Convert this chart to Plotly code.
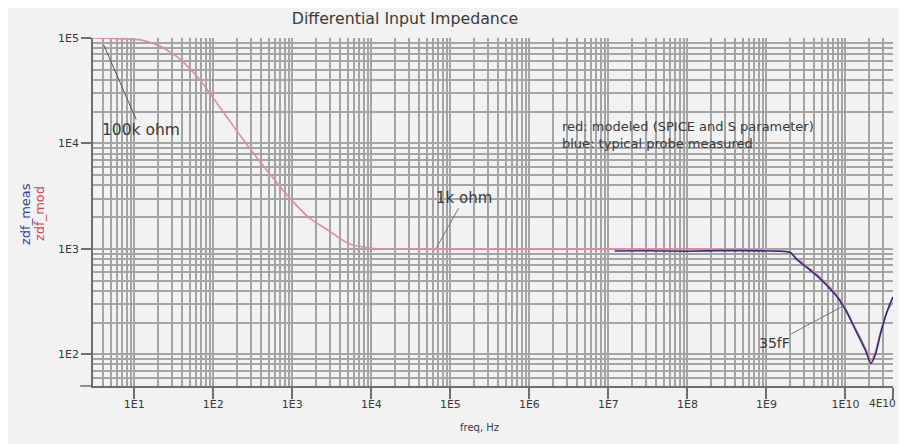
import plotly.graph_objects as go
import math

# ---- data ----
mod_freq = [3, 5.4, 12, 21, 38, 68, 121, 175, 288, 514, 916, 1636, 2920, 5210, 9300, 12300,
            1e5, 1e6, 1e7, 1e8, 1e9, 1.4e9, 2.0e9, 2.4e9, 4.3e9, 7.6e9, 1.0e10,
            1.34e10, 1.8e10, 2.1e10, 2.4e10, 2.8e10, 3.4e10, 4e10]
mod_z = [1e5, 99000, 96000, 84000, 63000, 40000, 22000, 15000, 9000, 5180, 3060, 1970, 1480, 1116, 1020, 1000,
         1000, 1000, 1000, 1000, 990, 960, 930, 820, 578, 373, 274,
         177, 114, 88, 107, 165, 257, 310]

meas_freq = [1.2e7, 3e7, 1e8, 3e8, 1e9, 1.4e9, 2.0e9, 2.4e9, 4.3e9, 7.6e9, 1.0e10,
             1.34e10, 1.8e10, 2.1e10, 2.4e10, 2.8e10, 3.4e10, 4e10]
meas_z = [955, 960, 950, 965, 955, 950, 925, 800, 560, 360, 265,
          170, 108, 82, 100, 160, 260, 350]

x_tickvals = [1e1, 1e2, 1e3, 1e4, 1e5, 1e6, 1e7, 1e8, 1e9, 1e10, 4e10]
x_ticktext = ["1E1", "1E2", "1E3", "1E4", "1E5", "1E6", "1E7", "1E8", "1E9", "1E10", "4E10"]
y_tickvals = [1e2, 1e3, 1e4, 1e5]
y_ticktext = ["1E2", "1E3", "1E4", "1E5"]

x_min, x_max = 3, 4e10
y_min, y_max = 50, 1e5

GRID = "#a4a4a4"
AXIS = "#6e6e6e"
FONT = "DejaVu Sans, Verdana, sans-serif"
TXT = "#3a3a3a"

# the page puts the figure 8px in from the top-left corner of the window
FIG_W, FIG_H = 899, 436

x_minor = [m * 10 ** d for d in range(0, 11) for m in range(2, 10) if x_min <= m * 10 ** d <= x_max]
y_minor = [m * 10 ** d for d in range(1, 5) for m in range(2, 10) if y_min <= m * 10 ** d <= y_max]

# the last x label sits at the right edge: draw it as a right-anchored text
x_axis_labels = x_ticktext[:-1] + [""]

fig = go.Figure()
fig.add_trace(go.Scatter(x=mod_freq, y=mod_z, mode="lines", name="zdf_mod",
                         line=dict(color="#dc8f9b", width=1.6, shape="spline", smoothing=0.6)))
fig.add_trace(go.Scatter(x=meas_freq, y=meas_z, mode="lines", name="zdf_meas",
                         line=dict(color="#2c2c7c", width=1.6, shape="spline", smoothing=0.6)))

fig.update_layout(
    width=FIG_W, height=FIG_H,
    margin=dict(l=85, r=14, t=30, b=58, autoexpand=False),
    paper_bgcolor="#f2f2f2", plot_bgcolor="#f2f2f2",
    showlegend=False,
    font=dict(family=FONT, size=11, color=TXT),
    title=dict(text="Differential Input Impedance", xref="paper", x=0.39, xanchor="center",
               y=1 - 10 / FIG_H, yanchor="middle", font=dict(size=15.8, color=TXT)),
)

fig.update_xaxes(
    type="log", range=[math.log10(x_min), math.log10(x_max)], automargin=False,
    tickvals=x_tickvals, ticktext=x_axis_labels, tickfont=dict(size=11),
    ticks="outside", ticklen=11, tickcolor=AXIS, tickwidth=1.5, ticklabelstandoff=-4,
    showgrid=True, gridcolor=GRID, gridwidth=1.6,
    minor=dict(tickvals=x_minor, showgrid=True, gridcolor=GRID, gridwidth=1.6, ticks=""),
    showline=True, linecolor=AXIS, linewidth=1.5,
    zeroline=False,
)
fig.update_yaxes(
    type="log", range=[math.log10(y_min), math.log10(y_max)], automargin=False,
    tickvals=y_tickvals, ticktext=y_ticktext, tickfont=dict(size=11),
    ticks="outside", ticklen=10, tickcolor=AXIS, tickwidth=1.5,
    showgrid=True, gridcolor=GRID, gridwidth=1.6,
    minor=dict(tickvals=y_minor, showgrid=True, gridcolor=GRID, gridwidth=1.6, ticks=""),
    showline=True, linecolor=AXIS, linewidth=1.5,
    zeroline=False,
)

# right-most x tick label
fig.add_annotation(xref="paper", yref="paper", x=(898 - 93) / 800, y=(386 - 403) / 348,
                   xanchor="right", yanchor="middle", text=x_ticktext[-1], showarrow=False,
                   font=dict(size=10.5, color=TXT))

# extension of the x-axis line to the left of the y-axis
fig.add_shape(type="line", xref="paper", yref="paper", x0=-0.016, x1=0, y0=0, y1=0,
              line=dict(color=AXIS, width=1.5))

# x-axis title
fig.add_annotation(xref="paper", yref="paper", x=(479 - 93) / 800, y=(386 - 435) / 348,
                   xanchor="center", text="freq, Hz", showarrow=False,
                   font=dict(size=10, color=TXT))

# y-axis titles (two coloured, rotated)
fig.add_annotation(xref="paper", yref="paper", x=(25 - 93) / 800, y=(386 - 214) / 348,
                   xanchor="center", yanchor="middle",
                   text="zdf_meas", textangle=-90, showarrow=False,
                   font=dict(size=13, color="#3a3a9a"))
fig.add_annotation(xref="paper", yref="paper", x=(39 - 93) / 800, y=(386 - 214) / 348,
                   xanchor="center", yanchor="middle",
                   text="zdf_mod", textangle=-90, showarrow=False,
                   font=dict(size=13, color="#cc4455"))

# callouts
fig.add_annotation(x=math.log10(4.1), y=math.log10(86000), text="100k ohm",
                   showarrow=True, arrowhead=0, arrowwidth=1, arrowcolor="#555555",
                   ax=37, ay=85, font=dict(size=15.5, color=TXT))
fig.add_annotation(x=4.824, y=3.01, text="1k ohm",
                   showarrow=True, arrowhead=0, arrowwidth=1, arrowcolor="#777777",
                   ax=28, ay=-50, font=dict(size=15, color=TXT))
fig.add_annotation(x=9.97, y=2.457, text="35fF",
                   showarrow=True, arrowhead=0, arrowwidth=1, arrowcolor="#777777",
                   ax=-69, ay=37, font=dict(size=14, color=TXT))

fig.add_annotation(xref="paper", yref="paper", x=(560 - 93) / 800, y=(386 - 135) / 348,
                   xanchor="left", yanchor="middle", align="left", showarrow=False,
                   text="red: modeled (SPICE and S parameter)<br>blue: typical probe measured",
                   font=dict(size=13, color=TXT))

fig.write_html("out.html")
